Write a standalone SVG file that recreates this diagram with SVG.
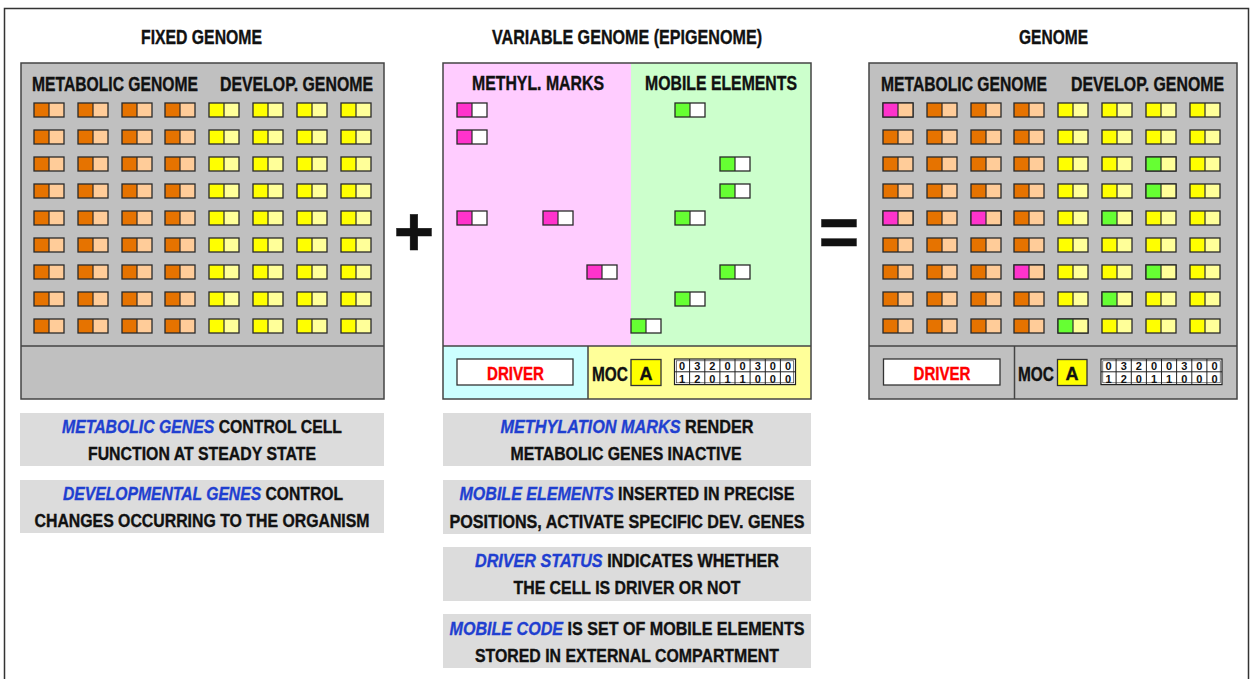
<svg xmlns="http://www.w3.org/2000/svg" xmlns:xlink="http://www.w3.org/1999/xlink" width="1252" height="679" viewBox="0 0 1252 679">
<style>
.t{font-family:"Liberation Sans","Arial",sans-serif;font-weight:bold;fill:#111;stroke:#111;stroke-width:0.35}
.hdr{font-size:19.5px}
.note{font-size:17.6px;text-anchor:middle}
.em{fill:#1f3fd0;stroke:#1f3fd0;font-style:italic}
.red{fill:#ff0000;stroke:#ff0000;font-size:17.6px}
.panel{stroke:#444;stroke-width:1.5}
.cb{fill:none;stroke:#2a2a2a;stroke-width:1.3}
.num{font-family:"Liberation Sans","DejaVu Sans",sans-serif;font-weight:bold;font-size:11px;text-anchor:middle;fill:#111}
.box{fill:#dcdcdc}
</style>
<defs>
<g id="c-mo"><rect width="15" height="14" fill="#e67300"/><rect x="15" width="15" height="14" fill="#ffcc99"/><rect width="30" height="14" class="cb"/><line x1="15" y1="0" x2="15" y2="14" stroke="#2a2a2a" stroke-width="1.2"/></g>
<g id="c-dy"><rect width="15" height="14" fill="#ffff00"/><rect x="15" width="15" height="14" fill="#ffff99"/><rect width="30" height="14" class="cb"/><line x1="15" y1="0" x2="15" y2="14" stroke="#2a2a2a" stroke-width="1.2"/></g>
<g id="c-mp"><rect width="15" height="14" fill="#ff33cc"/><rect x="15" width="15" height="14" fill="#ffcc99"/><rect width="30" height="14" class="cb"/><line x1="15" y1="0" x2="15" y2="14" stroke="#2a2a2a" stroke-width="1.2"/></g>
<g id="c-gy"><rect width="15" height="14" fill="#66ff33"/><rect x="15" width="15" height="14" fill="#ffff99"/><rect width="30" height="14" class="cb"/><line x1="15" y1="0" x2="15" y2="14" stroke="#2a2a2a" stroke-width="1.2"/></g>
<g id="c-mw"><rect width="15" height="14" fill="#ff33cc"/><rect x="15" width="15" height="14" fill="#ffffff"/><rect width="30" height="14" class="cb"/><line x1="15" y1="0" x2="15" y2="14" stroke="#2a2a2a" stroke-width="1.2"/></g>
<g id="c-gw"><rect width="15" height="14" fill="#66ff33"/><rect x="15" width="15" height="14" fill="#ffffff"/><rect width="30" height="14" class="cb"/><line x1="15" y1="0" x2="15" y2="14" stroke="#2a2a2a" stroke-width="1.2"/></g>
<g id="row">
<use href="#c-mo" x="0"/><use href="#c-mo" x="44"/><use href="#c-mo" x="88"/><use href="#c-mo" x="131"/>
<use href="#c-dy" x="175"/><use href="#c-dy" x="219"/><use href="#c-dy" x="263"/><use href="#c-dy" x="307"/>
</g>
<g id="grid">
<rect x="0" y="0" width="121" height="25.6" fill="#ffffff" stroke="#222" stroke-width="1.2"/>
<rect x="1.8" y="1.8" width="117.4" height="22" fill="none" stroke="#222" stroke-width="0.6"/>
<line x1="0" y1="12.8" x2="121" y2="12.8" stroke="#222" stroke-width="1"/>
<path d="M15.1 0V25.6M30.3 0V25.6M45.4 0V25.6M60.5 0V25.6M75.6 0V25.6M90.8 0V25.6M105.9 0V25.6" stroke="#222" stroke-width="1" fill="none"/>
<g class="num">
<text x="7.6" y="11">0</text><text x="22.7" y="11">3</text><text x="37.8" y="11">2</text><text x="53" y="11">0</text><text x="68.1" y="11">0</text><text x="83.2" y="11">3</text><text x="98.3" y="11">0</text><text x="113.5" y="11">0</text>
<text x="7.6" y="23.6">1</text><text x="22.7" y="23.6">2</text><text x="37.8" y="23.6">0</text><text x="53" y="23.6">1</text><text x="68.1" y="23.6">1</text><text x="83.2" y="23.6">0</text><text x="98.3" y="23.6">0</text><text x="113.5" y="23.6">0</text>
</g>
</g>
</defs>

<rect x="0" y="0" width="1252" height="679" fill="#ffffff"/>
<rect x="4.5" y="8.5" width="1244" height="700" fill="none" stroke="#333" stroke-width="1.5"/>

<g id="headers" class="t hdr">
<text x="141" y="44" textLength="121" lengthAdjust="spacingAndGlyphs">FIXED GENOME</text>
<text x="492" y="44" textLength="270" lengthAdjust="spacingAndGlyphs">VARIABLE GENOME (EPIGENOME)</text>
<text x="1019" y="44" textLength="69" lengthAdjust="spacingAndGlyphs">GENOME</text>
</g>

<g id="fixed-genome">
<rect x="21" y="63" width="363" height="336" fill="#c0c0c0" class="panel"/>
<line x1="21" y1="346" x2="384" y2="346" stroke="#444" stroke-width="1.5"/>
<text class="t hdr" x="32" y="91" textLength="166" lengthAdjust="spacingAndGlyphs">METABOLIC GENOME</text>
<text class="t hdr" x="220" y="91" textLength="153" lengthAdjust="spacingAndGlyphs">DEVELOP. GENOME</text>
<use href="#row" x="34" y="103"/><use href="#row" x="34" y="130"/><use href="#row" x="34" y="157"/>
<use href="#row" x="34" y="184"/><use href="#row" x="34" y="211"/><use href="#row" x="34" y="238"/>
<use href="#row" x="34" y="265"/><use href="#row" x="34" y="292"/><use href="#row" x="34" y="319"/>
</g>

<g id="plus"><text class="t" x="414" y="256" text-anchor="middle" style="font-size:70px">+</text></g>

<g id="variable-genome">
<rect x="443" y="63" width="188" height="283" fill="#ffccff"/>
<rect x="631" y="63" width="180" height="283" fill="#ccffcc"/>
<rect x="443" y="346" width="145" height="53" fill="#ccffff"/>
<rect x="588" y="346" width="223" height="53" fill="#ffff99"/>
<rect x="443" y="63" width="368" height="336" fill="none" class="panel"/>
<line x1="443" y1="346" x2="811" y2="346" stroke="#444" stroke-width="1.5"/>
<line x1="588" y1="346" x2="588" y2="399" stroke="#444" stroke-width="1.5"/>
<text class="t hdr" x="472" y="90" textLength="132" lengthAdjust="spacingAndGlyphs">METHYL. MARKS</text>
<text class="t hdr" x="645" y="90" textLength="152" lengthAdjust="spacingAndGlyphs">MOBILE ELEMENTS</text>
<use href="#c-mw" x="457" y="103"/><use href="#c-mw" x="457" y="130"/><use href="#c-mw" x="457" y="211"/>
<use href="#c-mw" x="543" y="211"/><use href="#c-mw" x="587" y="265"/>
<use href="#c-gw" x="675" y="103"/><use href="#c-gw" x="720" y="157"/><use href="#c-gw" x="720" y="184"/>
<use href="#c-gw" x="675" y="211"/><use href="#c-gw" x="720" y="265"/><use href="#c-gw" x="675" y="292"/>
<use href="#c-gw" x="631" y="319"/>
<rect x="457" y="359" width="116" height="26" fill="#ffffff" stroke="#333" stroke-width="1.3"/>
<text class="t red" x="487" y="379.5" textLength="57" lengthAdjust="spacingAndGlyphs">DRIVER</text>
<text class="t" x="592" y="380.5" textLength="36" lengthAdjust="spacingAndGlyphs" style="font-size:19.5px">MOC</text>
<rect x="631" y="359.5" width="30" height="26" fill="#ffff00" stroke="#333" stroke-width="1.3"/>
<text class="t" x="646" y="380" text-anchor="middle" style="font-size:18px">A</text>
<use href="#grid" x="674.5" y="359"/>
</g>

<g id="equals"><text class="t" x="839" y="256" text-anchor="middle" style="font-size:70px">=</text></g>

<g id="genome">
<rect x="869" y="63" width="368" height="336" fill="#c0c0c0" class="panel"/>
<line x1="869" y1="346" x2="1237" y2="346" stroke="#444" stroke-width="1.5"/>
<line x1="1014.5" y1="346" x2="1014.5" y2="399" stroke="#444" stroke-width="1.5"/>
<text class="t hdr" x="881" y="91" textLength="166" lengthAdjust="spacingAndGlyphs">METABOLIC GENOME</text>
<text class="t hdr" x="1071" y="91" textLength="153" lengthAdjust="spacingAndGlyphs">DEVELOP. GENOME</text>
<use href="#row" x="883" y="103"/><use href="#row" x="883" y="130"/><use href="#row" x="883" y="157"/>
<use href="#row" x="883" y="184"/><use href="#row" x="883" y="211"/><use href="#row" x="883" y="238"/>
<use href="#row" x="883" y="265"/><use href="#row" x="883" y="292"/><use href="#row" x="883" y="319"/>
<use href="#c-mp" x="883" y="103"/><use href="#c-mp" x="883" y="211"/><use href="#c-mp" x="971" y="211"/>
<use href="#c-mp" x="1014" y="265"/>
<use href="#c-gy" x="1146" y="157"/><use href="#c-gy" x="1146" y="184"/><use href="#c-gy" x="1102" y="211"/>
<use href="#c-gy" x="1146" y="265"/><use href="#c-gy" x="1102" y="292"/><use href="#c-gy" x="1058" y="319"/>
<rect x="883.5" y="359" width="116.5" height="26" fill="#ffffff" stroke="#333" stroke-width="1.3"/>
<text class="t red" x="913.5" y="379.5" textLength="57" lengthAdjust="spacingAndGlyphs">DRIVER</text>
<text class="t" x="1018" y="380.5" textLength="36" lengthAdjust="spacingAndGlyphs" style="font-size:19.5px">MOC</text>
<rect x="1057.5" y="359.5" width="29.5" height="26" fill="#ffff00" stroke="#333" stroke-width="1.3"/>
<text class="t" x="1072" y="380" text-anchor="middle" style="font-size:18px">A</text>
<use href="#grid" x="1101" y="359"/>
</g>

<g id="note-metabolic">
<rect class="box" x="20" y="413" width="364" height="53"/>
<text class="t note" x="202" y="433" textLength="280" lengthAdjust="spacingAndGlyphs"><tspan class="em">METABOLIC GENES</tspan> CONTROL CELL</text>
<text class="t note" x="202" y="460" textLength="228" lengthAdjust="spacingAndGlyphs">FUNCTION AT STEADY STATE</text>
</g>
<g id="note-developmental">
<rect class="box" x="20" y="480" width="364" height="53"/>
<text class="t note" x="203" y="500" textLength="280" lengthAdjust="spacingAndGlyphs"><tspan class="em">DEVELOPMENTAL GENES</tspan> CONTROL</text>
<text class="t note" x="202" y="527" textLength="335" lengthAdjust="spacingAndGlyphs">CHANGES OCCURRING TO THE ORGANISM</text>
</g>
<g id="note-methylation">
<rect class="box" x="443" y="413" width="368" height="53"/>
<text class="t note" x="627" y="433" textLength="253" lengthAdjust="spacingAndGlyphs"><tspan class="em">METHYLATION MARKS</tspan>  RENDER</text>
<text class="t note" x="626" y="460" textLength="231" lengthAdjust="spacingAndGlyphs">METABOLIC GENES INACTIVE</text>
</g>
<g id="note-mobile">
<rect class="box" x="443" y="480" width="368" height="54"/>
<text class="t note" x="627" y="500" textLength="335" lengthAdjust="spacingAndGlyphs"><tspan class="em">MOBILE ELEMENTS</tspan> INSERTED IN PRECISE</text>
<text class="t note" x="627" y="527.5" textLength="355" lengthAdjust="spacingAndGlyphs">POSITIONS, ACTIVATE SPECIFIC DEV. GENES</text>
</g>
<g id="note-driver">
<rect class="box" x="443" y="547" width="368" height="54"/>
<text class="t note" x="627" y="567" textLength="304" lengthAdjust="spacingAndGlyphs"><tspan class="em">DRIVER STATUS</tspan> INDICATES WHETHER</text>
<text class="t note" x="627" y="594" textLength="227" lengthAdjust="spacingAndGlyphs">THE CELL IS DRIVER OR NOT</text>
</g>
<g id="note-code">
<rect class="box" x="443" y="614" width="368" height="54"/>
<text class="t note" x="627" y="634.5" textLength="355" lengthAdjust="spacingAndGlyphs"><tspan class="em">MOBILE CODE</tspan> IS SET OF MOBILE ELEMENTS</text>
<text class="t note" x="627" y="661.5" textLength="304" lengthAdjust="spacingAndGlyphs">STORED IN EXTERNAL COMPARTMENT</text>
</g>
<g id="connectors"></g>
</svg>
